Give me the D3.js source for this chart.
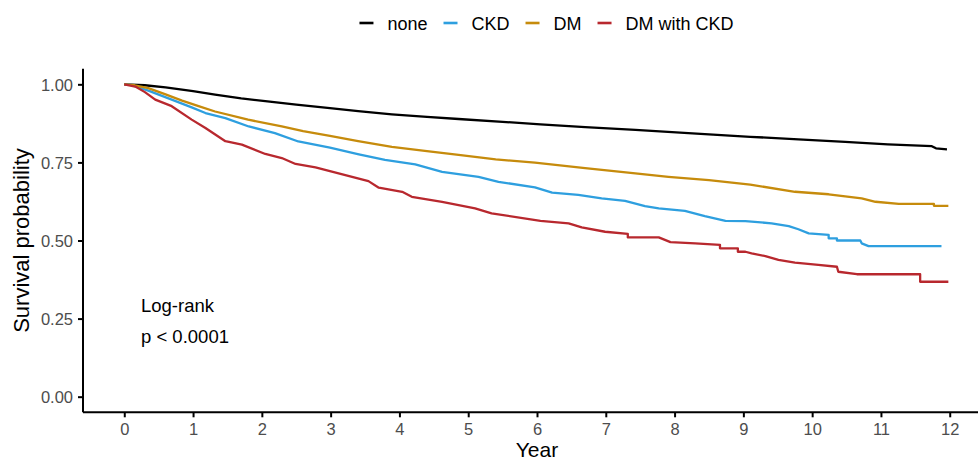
<!DOCTYPE html>
<html>
<head>
<meta charset="utf-8">
<script src="https://cdn.jsdelivr.net/npm/d3@7"></script>
<style>
  html, body { margin: 0; padding: 0; background: #fff; }
  svg { display: block; font-family: "Liberation Sans", Arial, sans-serif; }
</style>
</head>
<body>
<svg id="chart" width="978" height="462"></svg>
<script>
// ---- data ----
const seriesNames = ["none", "CKD", "DM", "DM with CKD"];
const seriesColors = ["#000000", "#2E9FDF", "#C68B0C", "#B8282E"];
const xTicks = [0, 1, 2, 3, 4, 5, 6, 7, 8, 9, 10, 11, 12];
const yTicks = [0, 0.25, 0.5, 0.75, 1.0];
const yTickLabels = ["0.00", "0.25", "0.50", "0.75", "1.00"];
const annotation = ["Log-rank", "p < 0.0001"];

const noneCurve = [[0,1],[0.3,0.997],[0.6,0.990],[1.0,0.978],[1.32,0.967],[1.7,0.955],[2.05,0.946],[2.5,0.935],[2.99,0.924],[3.4,0.914],[3.89,0.904],[4.4,0.896],[4.86,0.889],[5.5,0.880],[6.05,0.872],[6.7,0.863],[7.43,0.854],[8.2,0.844],[9.1,0.832],[9.8,0.824],[10.48,0.816],[11.1,0.808],[11.74,0.802],[11.8,0.795],[11.96,0.792]];
const ckdCurve = [[0,1],[0.1,0.998],[0.35,0.98],[0.69,0.951],[0.98,0.926],[1.18,0.908],[1.47,0.892],[1.81,0.865],[2.19,0.844],[2.53,0.817],[2.99,0.797],[3.41,0.776],[3.79,0.758],[4.23,0.744],[4.62,0.72],[5.15,0.704],[5.44,0.688],[5.97,0.67],[6.22,0.653],[6.6,0.646],[6.94,0.635],[7.28,0.627],[7.57,0.61],[7.77,0.603],[8.15,0.595],[8.44,0.578],[8.74,0.563],[9.03,0.562],[9.41,0.555],[9.66,0.546],[9.8,0.536],[9.95,0.523],[10.24,0.518],[10.24,0.507],[10.36,0.507],[10.36,0.50],[10.70,0.50],[10.72,0.491],[10.82,0.482],[11.88,0.482]];
const dmCurve = [[0,1],[0.15,0.997],[0.35,0.988],[0.6,0.968],[0.84,0.948],[1.08,0.93],[1.32,0.913],[1.8,0.887],[2.29,0.865],[2.6,0.85],[2.99,0.835],[3.4,0.818],[3.89,0.80],[4.4,0.786],[4.86,0.774],[5.4,0.760],[5.97,0.749],[6.7,0.732],[7.43,0.715],[7.91,0.704],[8.5,0.693],[9.1,0.679],[9.75,0.656],[10.24,0.648],[10.72,0.635],[10.92,0.624],[11.26,0.617],[11.77,0.617],[11.77,0.611],[11.98,0.611]];
const dmCkdCurve = [[0,1],[0.16,0.993],[0.3,0.975],[0.45,0.951],[0.69,0.93],[0.98,0.887],[1.18,0.86],[1.47,0.818],[1.71,0.807],[2.05,0.777],[2.29,0.764],[2.49,0.745],[2.78,0.734],[2.99,0.722],[3.55,0.69],[3.70,0.669],[4.04,0.656],[4.18,0.64],[4.62,0.624],[5.10,0.603],[5.34,0.587],[6.05,0.563],[6.46,0.555],[6.65,0.542],[6.99,0.528],[7.32,0.521],[7.32,0.51],[7.77,0.51],[7.94,0.495],[8.30,0.491],[8.66,0.486],[8.66,0.475],[8.92,0.475],[8.92,0.464],[9.03,0.464],[9.12,0.459],[9.32,0.45],[9.51,0.438],[9.75,0.429],[10.09,0.422],[10.36,0.416],[10.38,0.40],[10.65,0.392],[11.57,0.392],[11.57,0.368],[11.98,0.368]];
const curves = [noneCurve, ckdCurve, dmCurve, dmCkdCurve];

// ---- layout ----
const svg = d3.select("#chart");
const panel = { left: 83, right: 991, top: 68.7, bottom: 412.3 };

const x = d3.scaleLinear().domain([-0.6, 12.6]).range([panel.left, panel.right]);
const y = d3.scaleLinear().domain([-0.05, 1.05]).range([panel.bottom, panel.top]);

// curves (drawn first so axes sit on top)
const line = d3.line().x(d => x(d[0])).y(d => y(d[1])).curve(d3.curveLinear);
svg.append("g").selectAll("path")
  .data(curves)
  .join("path")
  .attr("d", line)
  .attr("fill", "none")
  .attr("stroke", (d, i) => seriesColors[i])
  .attr("stroke-width", 2.3)
  .attr("stroke-linejoin", "round");

// axes
const xAxis = d3.axisBottom(x).tickValues(xTicks).tickSize(5).tickPadding(5).tickFormat(d3.format("d"));
const gx = svg.append("g").attr("transform", `translate(0,${panel.bottom})`).call(xAxis);
gx.select(".domain").attr("d", `M${panel.left},0H${panel.right}`);

const yAxis = d3.axisLeft(y).tickValues(yTicks).tickSize(5).tickPadding(5)
  .tickFormat((d, i) => yTickLabels[i]);
const gy = svg.append("g").attr("transform", `translate(${panel.left},0)`).call(yAxis);
gy.select(".domain").attr("d", `M0,${panel.top}V${panel.bottom}`);

[gx, gy].forEach(g => {
  g.select(".domain").attr("stroke", "#000").attr("stroke-width", 2);
  g.selectAll(".tick line").attr("stroke", "#000").attr("stroke-width", 2);
  g.selectAll(".tick text").attr("fill", "#4D4D4D").attr("font-size", 16.5)
    .attr("font-family", "Liberation Sans, Arial, sans-serif");
});
gx.selectAll(".tick text").attr("dy", null).attr("y", 22.5);
gy.selectAll(".tick text").attr("dy", "0.35em");

// axis titles
svg.append("text")
  .attr("x", (panel.left + panel.right) / 2).attr("y", 457.4)
  .attr("text-anchor", "middle").attr("font-size", 21).attr("fill", "#000")
  .text("Year");
svg.append("text")
  .attr("transform", `translate(29,${(panel.top + panel.bottom) / 2}) rotate(-90)`)
  .attr("text-anchor", "middle").attr("font-size", 22).attr("fill", "#000")
  .text("Survival probability");

// annotation
svg.append("g").selectAll("text")
  .data(annotation)
  .join("text")
  .attr("x", 141).attr("y", (d, i) => 311.5 + i * 31.5)
  .attr("font-size", 18.5).attr("fill", "#000")
  .text(d => d);

// legend
const legend = svg.append("g");
let cursor = 0;
seriesNames.forEach((name, i) => {
  const item = legend.append("g").attr("transform", `translate(${cursor},0)`);
  item.append("line").attr("x1", 0).attr("x2", 14).attr("y1", 23).attr("y2", 23)
    .attr("stroke", seriesColors[i]).attr("stroke-width", 2.6);
  const t = item.append("text").attr("x", 28).attr("y", 30.3)
    .attr("font-size", 18).attr("fill", "#000").text(name);
  const w = t.node().getComputedTextLength();
  cursor += 28 + w + 16;
});
const totalW = cursor - 16;
legend.attr("transform", `translate(${546.5 - totalW / 2},0)`);
</script>
</body>
</html>
